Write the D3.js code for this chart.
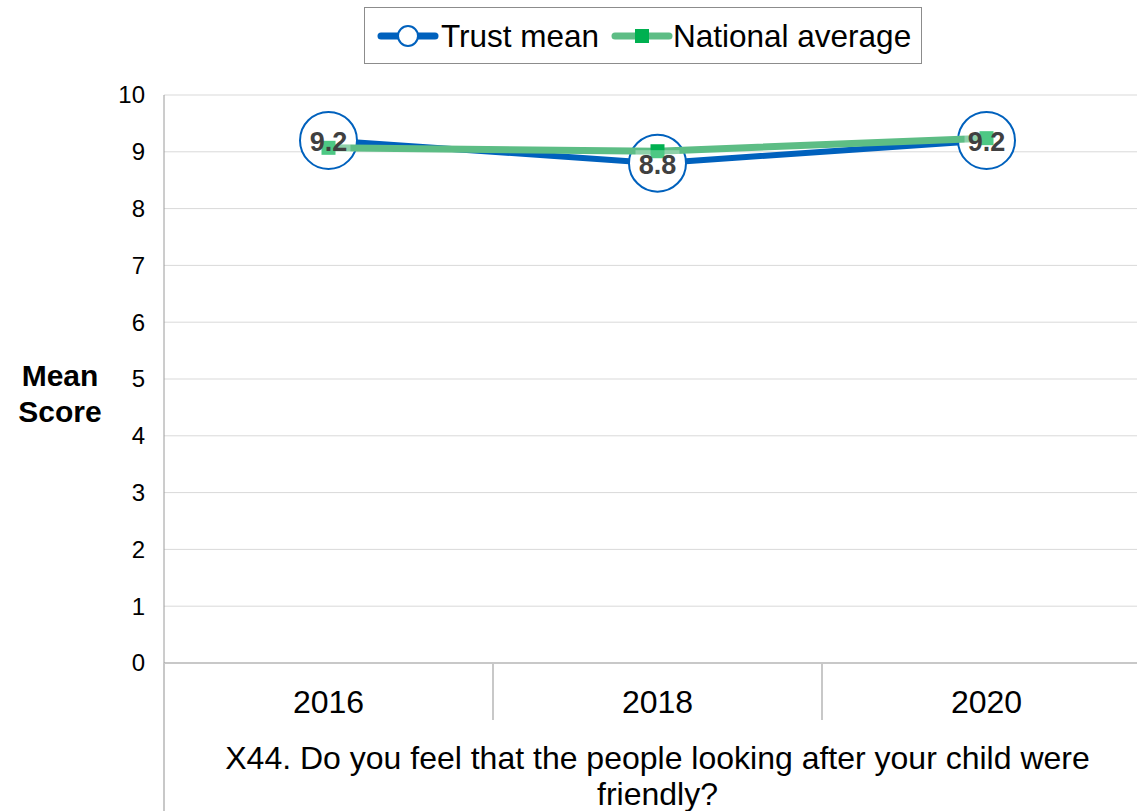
<!DOCTYPE html>
<html>
<head>
<meta charset="utf-8">
<script src="https://cdn.jsdelivr.net/npm/d3@7"></script>
<style>
  body { margin: 0; background: #fff; }
  svg { display: block; font-family: "Liberation Sans", Arial, sans-serif; }
</style>
</head>
<body>
<div id="chart"></div>
<script>
// Chart data
const years = ["2016", "2018", "2020"];
const trustMean = [9.2, 8.8, 9.2];
const nationalAverage = [9.07, 9.01, 9.24];
const yTicks = [0, 1, 2, 3, 4, 5, 6, 7, 8, 9, 10];
const titleLines = ["X44. Do you feel that the people looking after your child were", "friendly?"];

const width = 1137;
const height = 811;
const marginLeft = 164;
const plotRight = 1151;
const marginTop = 95;
const plotBottom = 663;

const svg = d3.select("#chart")
  .append("svg")
  .attr("width", width)
  .attr("height", height);

const x = d3.scaleBand()
  .domain(years)
  .range([marginLeft, plotRight]);

const y = d3.scaleLinear()
  .domain([0, 10])
  .range([plotBottom, marginTop]);

// Gridlines
svg.append("g")
  .selectAll("line")
  .data(yTicks)
  .join("line")
  .attr("x1", marginLeft)
  .attr("x2", plotRight)
  .attr("y1", d => y(d))
  .attr("y2", d => y(d))
  .attr("stroke", d => d === 0 ? "#c8c8c8" : "#d9d9d9")
  .attr("stroke-width", d => d === 0 ? 2 : 1);

// Y-axis tick labels
svg.append("g")
  .selectAll("text")
  .data(yTicks)
  .join("text")
  .attr("x", 145)
  .attr("y", d => y(d))
  .attr("dy", "0.35em")
  .attr("text-anchor", "end")
  .attr("font-size", 24)
  .attr("fill", "#000")
  .text(d => d);

// Left axis line (runs down through the category area)
svg.append("line")
  .attr("x1", marginLeft).attr("x2", marginLeft)
  .attr("y1", marginTop).attr("y2", plotBottom)
  .attr("stroke", "#9a9a9a").attr("stroke-width", 1);
svg.append("line")
  .attr("x1", marginLeft).attr("x2", marginLeft)
  .attr("y1", plotBottom).attr("y2", height)
  .attr("stroke", "#c8c8c8").attr("stroke-width", 2);

// Category dividers
svg.append("g")
  .selectAll("line")
  .data(years.slice(1))
  .join("line")
  .attr("x1", d => x(d))
  .attr("x2", d => x(d))
  .attr("y1", plotBottom)
  .attr("y2", 720)
  .attr("stroke", "#c8c8c8")
  .attr("stroke-width", 2);

// X-axis labels
svg.append("g")
  .selectAll("text")
  .data(years)
  .join("text")
  .attr("x", d => x(d) + x.bandwidth() / 2)
  .attr("y", 713)
  .attr("text-anchor", "middle")
  .attr("font-size", 32)
  .attr("fill", "#000")
  .text(d => d);

// Question title
svg.append("g")
  .selectAll("text")
  .data(titleLines)
  .join("text")
  .attr("x", (marginLeft + plotRight) / 2)
  .attr("y", (d, i) => 769 + i * 36)
  .attr("text-anchor", "middle")
  .attr("font-size", 32)
  .attr("fill", "#000")
  .text(d => d);

// Y-axis title
svg.append("text")
  .attr("x", 60)
  .attr("y", 386)
  .attr("text-anchor", "middle")
  .attr("font-size", 30)
  .attr("font-weight", "bold")
  .selectAll("tspan")
  .data(["Mean", "Score"])
  .join("tspan")
  .attr("x", 60)
  .attr("dy", (d, i) => i === 0 ? 0 : 36)
  .text(d => d);

const cx = d => x(d) + x.bandwidth() / 2;

const line = d3.line()
  .x(d => cx(d.year))
  .y(d => y(d.value));

const trustData = years.map((yr, i) => ({ year: yr, value: trustMean[i] }));
const natData = years.map((yr, i) => ({ year: yr, value: nationalAverage[i] }));

// Trust mean line + circles
svg.append("path")
  .datum(trustData)
  .attr("fill", "none")
  .attr("stroke", "#0061bd")
  .attr("stroke-width", 6)
  .attr("stroke-linejoin", "round")
  .attr("d", line);

svg.append("g")
  .selectAll("circle")
  .data(trustData)
  .join("circle")
  .attr("cx", d => cx(d.year))
  .attr("cy", d => y(d.value))
  .attr("r", 28.5)
  .attr("fill", "#fff")
  .attr("stroke", "#0061bd")
  .attr("stroke-width", 2);

// National average line + squares
svg.append("path")
  .datum(natData)
  .attr("fill", "none")
  .attr("stroke", "#5dbd85")
  .attr("stroke-width", 7)
  .attr("stroke-linejoin", "round")
  .attr("d", line);

svg.append("g")
  .selectAll("rect")
  .data(natData)
  .join("rect")
  .attr("x", d => cx(d.year) - 7)
  .attr("y", d => y(d.value) - 7)
  .attr("width", 14)
  .attr("height", 14)
  .attr("fill", "#00b050");

// Data labels with faint white backing
const labels = svg.append("g")
  .selectAll("g")
  .data(trustData)
  .join("g")
  .attr("transform", d => `translate(${cx(d.year)},${y(d.value) + 1})`);

labels.append("rect")
  .attr("x", -22)
  .attr("y", -14)
  .attr("width", 44)
  .attr("height", 28)
  .attr("fill", "#fff")
  .attr("opacity", 0.3);

labels.append("text")
  .attr("text-anchor", "middle")
  .attr("dy", "0.35em")
  .attr("font-size", 27)
  .attr("font-weight", "bold")
  .attr("fill", "#404040")
  .text(d => d3.format(".1f")(d.value));

// Legend
const legend = svg.append("g");
legend.append("rect")
  .attr("x", 364.5)
  .attr("y", 7.5)
  .attr("width", 557)
  .attr("height", 56)
  .attr("fill", "#fff")
  .attr("stroke", "#8c8c8c")
  .attr("stroke-width", 1);

const legY = 36;
legend.append("line")
  .attr("x1", 381).attr("x2", 435)
  .attr("y1", legY).attr("y2", legY)
  .attr("stroke", "#0061bd").attr("stroke-width", 7)
  .attr("stroke-linecap", "round");
legend.append("circle")
  .attr("cx", 408).attr("cy", legY).attr("r", 10)
  .attr("fill", "#fff").attr("stroke", "#0061bd").attr("stroke-width", 2);
legend.append("text")
  .attr("x", 441).attr("y", legY).attr("dy", "0.35em")
  .attr("font-size", 31.5).text("Trust mean");

legend.append("line")
  .attr("x1", 615).attr("x2", 669)
  .attr("y1", legY).attr("y2", legY)
  .attr("stroke", "#5dbd85").attr("stroke-width", 7)
  .attr("stroke-linecap", "round");
legend.append("rect")
  .attr("x", 635).attr("y", legY - 7).attr("width", 14).attr("height", 14)
  .attr("fill", "#00b050");
legend.append("text")
  .attr("x", 673).attr("y", legY).attr("dy", "0.35em")
  .attr("font-size", 31.5).text("National average");
</script>
</body>
</html>
